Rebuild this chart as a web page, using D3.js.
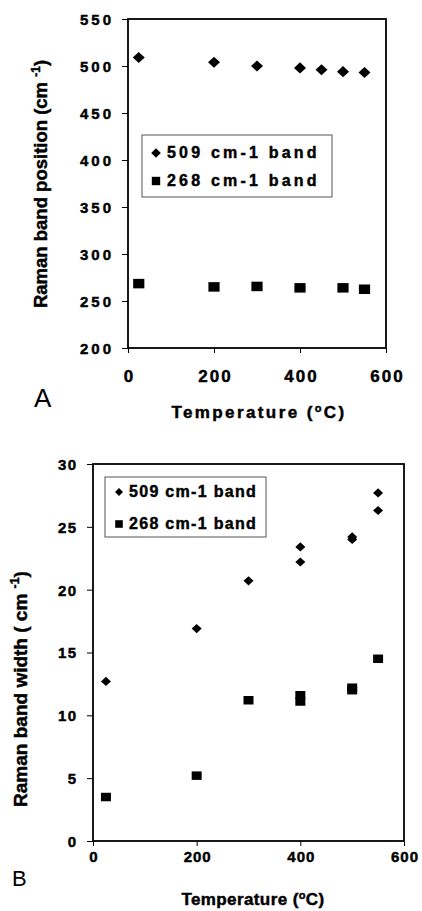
<!DOCTYPE html>
<html>
<head>
<meta charset="utf-8">
<script src="https://cdn.jsdelivr.net/npm/d3@7"></script>
<style>
  html, body { margin: 0; padding: 0; background: #fff; }
  svg { display: block; }
  text { font-family: "Liberation Sans", Arial, sans-serif; fill: #000; }
  text.heavy { stroke: #000; stroke-width: 0.45px; }
</style>
</head>
<body>
<svg id="chart" width="422" height="911"></svg>
<script>
// ---------- Data ----------
const xTicks = [0, 200, 400, 600];

// Panel A: Raman band position (cm-1)
const aYTicks = [200, 250, 300, 350, 400, 450, 500, 550];
const aTemp509 = [25, 200, 300, 400, 450, 500, 550];
const aPos509  = [509, 504, 500, 498, 496, 494, 493];
const aTemp268 = [25, 200, 300, 400, 500, 550];
const aPos268  = [268.5, 265, 265.5, 264, 264, 262.5];

// Panel B: Raman band width (cm-1)
const bYTicks = [0, 5, 10, 15, 20, 25, 30];
const bTemp509 = [25, 200, 300, 400, 400, 500, 500, 550, 550];
const bWid509  = [12.7, 16.9, 20.7, 23.4, 22.2, 24.2, 24.0, 27.7, 26.3];
const bTemp268 = [25, 200, 300, 400, 400, 500, 500, 550];
const bWid268  = [3.5, 5.2, 11.2, 11.6, 11.1, 12.2, 12.0, 14.5];

const seriesNames = ["509 cm-1 band", "268 cm-1 band"];

// ---------- Helpers ----------
const diamondType = { draw(ctx, r) { ctx.moveTo(0, -r); ctx.lineTo(r, 0); ctx.lineTo(0, r); ctx.lineTo(-r, 0); ctx.closePath(); } };
const squareType  = { draw(ctx, r) { ctx.rect(-r, -r, 2 * r, 2 * r); } };
const diamondW = { draw(ctx, r) { ctx.moveTo(0, -r * 0.92); ctx.lineTo(r, 0); ctx.lineTo(0, r * 0.92); ctx.lineTo(-r, 0); ctx.closePath(); } };
const rectType = { draw(ctx, r) { ctx.rect(-r, -r * 0.85, 2 * r, 1.7 * r); } };

const svg = d3.select("#chart");

function panel(cfg) {
  const g = svg.append("g");
  const x = d3.scaleLinear().domain([0, 600]).range([cfg.left, cfg.right]);
  const y = d3.scaleLinear().domain(cfg.yDomain).range([cfg.bottom, cfg.top]);

  // Frame
  g.append("rect")
    .attr("x", cfg.left).attr("y", cfg.top)
    .attr("width", cfg.right - cfg.left).attr("height", cfg.bottom - cfg.top)
    .attr("fill", "none").attr("stroke", "#000").attr("stroke-width", 1.8);

  // Y axis
  const yAxis = d3.axisLeft(y).tickValues(cfg.yTicks).tickSize(6).tickPadding(cfg.yPad);
  const ya = g.append("g").attr("transform", `translate(${cfg.left},0)`).call(yAxis);
  ya.attr("font-family", null).attr("font-size", null);
  ya.select(".domain").remove();
  ya.selectAll(".tick line").attr("stroke", "#000").attr("stroke-width", 1);
  ya.selectAll(".tick text").classed("heavy", true)
    .style("font-size", cfg.tickFont + "px").style("font-weight", "bold")
    .style("letter-spacing", cfg.tickLs + "px")
    .attr("dx", cfg.tickLs)
    .attr("dy", "0.36em");

  // X axis
  const xAxis = d3.axisBottom(x).tickValues(xTicks).tickSize(5).tickPadding(cfg.xPad);
  const xa = g.append("g").attr("transform", `translate(0,${cfg.bottom})`).call(xAxis);
  xa.attr("font-family", null).attr("font-size", null);
  xa.select(".domain").remove();
  xa.selectAll(".tick line").attr("stroke", "#000").attr("stroke-width", 1);
  xa.selectAll(".tick text").classed("heavy", true)
    .style("font-size", cfg.xTickFont + "px").style("font-weight", "bold")
    .style("letter-spacing", cfg.xTickLs + "px")
    .attr("dx", cfg.xTickLs / 2)
    .attr("dy", "0");
  xa.selectAll(".tick text").attr("y", cfg.xTickBase - cfg.bottom);

  // Points
  const sym509 = d3.symbol().type(diamondW).size(cfg.dR);
  const sym268 = d3.symbol().type(rectType).size(cfg.sR);
  g.append("g").selectAll("path").data(cfg.t509.map((t, i) => [t, cfg.v509[i]]))
    .join("path").attr("d", sym509).attr("fill", "#000")
    .attr("transform", d => `translate(${x(d[0])},${y(d[1])})`);
  g.append("g").selectAll("path").data(cfg.t268.map((t, i) => [t, cfg.v268[i]]))
    .join("path").attr("d", sym268).attr("fill", "#000")
    .attr("transform", d => `translate(${x(d[0])},${y(d[1])})`);

  // Legend
  const L = cfg.legend;
  g.append("rect").attr("x", L.x).attr("y", L.y).attr("width", L.w).attr("height", L.h)
    .attr("fill", "#fff").attr("stroke", "#555").attr("stroke-width", 1);
  const legSyms = [d3.symbol().type(diamondType).size(L.dR), d3.symbol().type(squareType).size(L.sR)];
  seriesNames.forEach((name, i) => {
    const by = L.base[i];
    g.append("path").attr("d", legSyms[i]).attr("fill", "#000")
      .attr("transform", `translate(${L.mx},${by - L.markUp})`);
    g.append("text").attr("class", "heavy").attr("x", L.tx).attr("y", by)
      .style("font-size", L.font + "px").style("font-weight", "bold")
      .style("letter-spacing", L.ls + "px")
      .text(name);
  });

  // X title
  const xt = g.append("text").attr("class", "heavy").attr("x", cfg.xTitle.x).attr("y", cfg.xTitle.y)
    .attr("text-anchor", "middle").style("font-size", cfg.xTitle.font + "px").style("font-weight", "bold")
    .style("letter-spacing", cfg.xTitle.ls + "px");
  xt.append("tspan").text("Temperature (");
  xt.append("tspan").style("font-size", (cfg.xTitle.font * 0.65) + "px").attr("dy", -cfg.xTitle.font * 0.38).text("o");
  xt.append("tspan").attr("dy", cfg.xTitle.font * 0.38).text("C)");

  // Y title
  const yt = g.append("text").attr("class", "heavy")
    .attr("transform", `translate(${cfg.yTitle.x},${cfg.yTitle.y}) rotate(-90)`)
    .attr("text-anchor", "middle").style("font-size", cfg.yTitle.font + "px").style("font-weight", "bold");
  yt.append("tspan").text(cfg.yTitle.text);
  yt.append("tspan").style("font-size", (cfg.yTitle.font * 0.65) + "px").attr("dy", -cfg.yTitle.font * 0.4).text("-1");
  yt.append("tspan").attr("dy", cfg.yTitle.font * 0.4).text(")");

  // Panel letter
  g.append("text").attr("x", cfg.letter.x).attr("y", cfg.letter.y)
    .style("font-size", cfg.letter.font + "px").text(cfg.letter.text);
}

panel({
  left: 128, right: 386, top: 19, bottom: 348,
  yDomain: [200, 550], yTicks: aYTicks,
  tickFont: 15, tickLs: 3, yPad: 11,
  xTickFont: 17, xTickLs: 2, xPad: 8, xTickBase: 382,
  t509: aTemp509, v509: aPos509, t268: aTemp268, v268: aPos268,
  dR: 6, sR: 5.6,
  legend: { x: 142, y: 135, w: 190, h: 62, mx: 156, tx: 167, base: [157.5, 185.5], markUp: 4.5, dR: 4.8, sR: 4.2, font: 16, ls: 3.2 },
  xTitle: { x: 259, y: 418, font: 17, ls: 2.4 },
  yTitle: { x: 47, y: 184, font: 18.5, text: "Raman band position (cm " },
  letter: { x: 34, y: 407, font: 26, text: "A" }
});

panel({
  left: 93, right: 404, top: 464, bottom: 841,
  yDomain: [0, 30], yTicks: bYTicks,
  tickFont: 15, tickLs: 1.2, yPad: 11,
  xTickFont: 15, xTickLs: 1, xPad: 8, xTickBase: 862,
  t509: bTemp509, v509: bWid509, t268: bTemp268, v268: bWid268,
  dR: 5, sR: 5,
  legend: { x: 105, y: 477, w: 161, h: 60, mx: 119, tx: 129, base: [497, 529], markUp: 5, dR: 4, sR: 3.8, font: 16, ls: 1.3 },
  xTitle: { x: 253, y: 905, font: 17, ls: 0.4 },
  yTitle: { x: 27, y: 689, font: 19, text: "Raman band width ( cm " },
  letter: { x: 12, y: 886, font: 22, text: "B" }
});
</script>
</body>
</html>
